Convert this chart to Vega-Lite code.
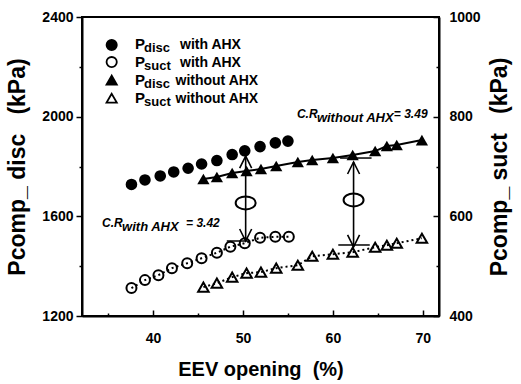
{
  "$schema": "https://vega.github.io/schema/vega-lite/v6.json",
  "width": 357,
  "height": 299,
  "autosize": {"type": "none"},
  "padding": {"left": 82, "top": 17, "right": 82, "bottom": 68},
  "background": "white",
  "config": {
    "view": {"stroke": "black", "strokeWidth": 2},
    "font": "Liberation Sans",
    "axis": {"grid": false, "domainColor": "black", "domainWidth": 2, "tickColor": "black", "tickWidth": 1.5, "labelColor": "black", "titleColor": "black", "labelFont": "Liberation Sans", "titleFont": "Liberation Sans", "labelFontWeight": "bold", "titleFontWeight": "bold", "labelFontSize": 14, "format": "d"}
  },
  "datasets": {
    "disc_with": [
      {"x": 37.6, "v": 1728}, {"x": 39.1, "v": 1746}, {"x": 40.8, "v": 1762}, {"x": 42.3, "v": 1778},
      {"x": 43.9, "v": 1793}, {"x": 45.4, "v": 1810}, {"x": 47.1, "v": 1824}, {"x": 48.8, "v": 1848},
      {"x": 50.2, "v": 1863}, {"x": 51.9, "v": 1880}, {"x": 53.6, "v": 1895}, {"x": 55.0, "v": 1902}
    ],
    "suct_with": [
      {"x": 37.6, "s": 456}, {"x": 39.1, "s": 472}, {"x": 40.6, "s": 482}, {"x": 42.1, "s": 496},
      {"x": 43.8, "s": 506}, {"x": 45.4, "s": 516}, {"x": 47.1, "s": 527}, {"x": 48.6, "s": 539},
      {"x": 50.2, "s": 546}, {"x": 51.9, "s": 557}, {"x": 53.6, "s": 559}, {"x": 55.1, "s": 559}
    ],
    "disc_without": [
      {"x": 45.6, "v": 1750}, {"x": 47.1, "v": 1758}, {"x": 48.8, "v": 1774}, {"x": 50.4, "v": 1782},
      {"x": 52.0, "v": 1790}, {"x": 53.7, "v": 1802}, {"x": 56.1, "v": 1818}, {"x": 57.7, "v": 1826},
      {"x": 60.0, "v": 1834}, {"x": 62.2, "v": 1846}, {"x": 64.7, "v": 1862}, {"x": 66.0, "v": 1882},
      {"x": 67.1, "v": 1886}, {"x": 69.9, "v": 1906}
    ],
    "suct_without": [
      {"x": 45.6, "s": 458}, {"x": 47.1, "s": 466}, {"x": 48.8, "s": 478}, {"x": 50.4, "s": 486},
      {"x": 52.0, "s": 488}, {"x": 53.7, "s": 496}, {"x": 56.1, "s": 502}, {"x": 57.7, "s": 520},
      {"x": 60.0, "s": 524}, {"x": 62.2, "s": 528}, {"x": 64.7, "s": 538}, {"x": 66.0, "s": 542},
      {"x": 67.1, "s": 546}, {"x": 69.9, "s": 556}
    ],
    "arrows": [
      {"x": 50.3, "v": 1842, "v2": 1501},
      {"x": 62.3, "v": 1818, "v2": 1477}
    ],
    "ellipses": [
      {"x": 50.3, "v": 1654},
      {"x": 62.3, "v": 1666}
    ],
    "tangents": [
      {"x": 48.2, "x2": 50.8, "v": 1501},
      {"x": 60.8, "x2": 64.3, "v": 1834},
      {"x": 60.6, "x2": 64.1, "v": 1485}
    ],
    "legend": [
      {"series": "disc_with", "mx": 35.4, "v": 2288, "xp": 38.0, "xs": 39.0, "sub": "disc", "rest": "with AHX", "xr": 43.0},
      {"series": "suct_with", "mx": 35.4, "v": 2219, "xp": 38.0, "xs": 39.0, "sub": "suct", "rest": "with AHX", "xr": 43.0},
      {"series": "disc_without", "mx": 35.4, "v": 2147, "xp": 38.0, "xs": 39.0, "sub": "disc", "rest": "without AHX", "xr": 42.5},
      {"series": "suct_without", "mx": 35.4, "v": 2074, "xp": 38.0, "xs": 39.0, "sub": "suct", "rest": "without AHX", "xr": 42.5}
    ],
    "cr": [
      {"x1": 34.33, "t1": "C.R", "x2": 36.56, "t2": "with AHX", "x3": 43.67, "t3": "= 3.42", "v": 1557},
      {"x1": 56.0, "t1": "C.R", "x2": 58.22, "t2": "without AHX", "x3": 66.78, "t3": "= 3.49", "v": 1995}
    ]
  },
  "layer": [
    {
      "layer": [
        {
          "data": {"name": "disc_with"},
          "mark": {"type": "point", "shape": "circle", "filled": true, "color": "black", "size": 135, "opacity": 1},
          "encoding": {
            "x": {"field": "x", "type": "quantitative", "scale": {"domain": [32.1, 71.8], "nice": false, "zero": false},
              "axis": {"title": "EEV opening\u00a0\u00a0(%)", "titleFontSize": 20, "titlePadding": 14,
                "values": [35, 40, 45, 50, 55, 60, 65, 70],
                "labelExpr": "datum.value % 10 === 0 ? datum.label : ''",
                "tickSize": {"condition": {"test": "datum.value % 10 === 0", "value": -6}, "value": -3},
                "labelPadding": 21}},
            "y": {"field": "v", "type": "quantitative", "scale": {"domain": [1200, 2400], "nice": false, "zero": false},
              "axis": {"title": "Pcomp_ disc\u00a0\u00a0\u00a0(kPa)", "titleFontSize": 23, "titlePadding": 12,
                "values": [1200, 1400, 1600, 1800, 2000, 2200, 2400],
                "labelExpr": "datum.value % 400 === 0 ? datum.label : ''",
                "tickSize": {"condition": {"test": "datum.value % 400 === 0", "value": 6}, "value": 3},
                "labelPadding": 3}}
          }
        },
        {
          "data": {"name": "disc_without"},
          "mark": {"type": "line", "color": "black", "strokeWidth": 2},
          "encoding": {"x": {"field": "x", "type": "quantitative"}, "y": {"field": "v", "type": "quantitative"}}
        },
        {
          "data": {"name": "disc_without"},
          "mark": {"type": "point", "shape": "triangle-up", "filled": true, "color": "black", "size": 150, "opacity": 1},
          "encoding": {"x": {"field": "x", "type": "quantitative"}, "y": {"field": "v", "type": "quantitative"}}
        },
        {
          "data": {"name": "arrows"},
          "mark": {"type": "rule", "color": "black", "strokeWidth": 1.6},
          "encoding": {"x": {"field": "x", "type": "quantitative"}, "y": {"field": "v", "type": "quantitative"}, "y2": {"field": "v2"}}
        },
        {
          "data": {"name": "arrows"},
          "mark": {"type": "point", "shape": "M -0.5 1 L 0 0 L 0.5 1", "filled": false, "color": "black", "strokeWidth": 1.6, "size": 576, "opacity": 1},
          "encoding": {"x": {"field": "x", "type": "quantitative"}, "y": {"field": "v", "type": "quantitative"}}
        },
        {
          "data": {"name": "arrows"},
          "mark": {"type": "point", "shape": "M -0.5 -1 L 0 0 L 0.5 -1", "filled": false, "color": "black", "strokeWidth": 1.6, "size": 576, "opacity": 1},
          "encoding": {"x": {"field": "x", "type": "quantitative"}, "y": {"field": "v2", "type": "quantitative"}}
        },
        {
          "data": {"name": "ellipses"},
          "mark": {"type": "point", "shape": "M -1 0 A 1 0.65 0 1 0 1 0 A 1 0.65 0 1 0 -1 0 Z", "filled": false, "color": "black", "strokeWidth": 2, "size": 400, "opacity": 1},
          "encoding": {"x": {"field": "x", "type": "quantitative"}, "y": {"field": "v", "type": "quantitative"}}
        },
        {
          "data": {"name": "tangents"},
          "mark": {"type": "rule", "color": "black", "strokeWidth": 1.5},
          "encoding": {"x": {"field": "x", "type": "quantitative"}, "x2": {"field": "x2"}, "y": {"field": "v", "type": "quantitative"}}
        },
        {
          "data": {"name": "legend"},
          "mark": {"type": "point", "filled": true, "stroke": "black", "strokeWidth": 1.8, "size": 105, "opacity": 1},
          "encoding": {
            "x": {"field": "mx", "type": "quantitative"},
            "y": {"field": "v", "type": "quantitative"},
            "fill": {"field": "series", "type": "nominal", "scale": {"domain": ["disc_with", "suct_with", "disc_without", "suct_without"], "range": ["black", "white", "black", "white"]}, "legend": null},
            "shape": {"field": "series", "type": "nominal", "scale": {"domain": ["disc_with", "suct_with", "disc_without", "suct_without"], "range": ["circle", "circle", "triangle-up", "triangle-up"]}, "legend": null}
          }
        },
        {
          "data": {"name": "legend"},
          "mark": {"type": "text", "text": "P", "align": "left", "baseline": "alphabetic", "dy": 4.5, "fontSize": 15, "fontWeight": "bold", "color": "black"},
          "encoding": {"x": {"field": "xp", "type": "quantitative"}, "y": {"field": "v", "type": "quantitative"}}
        },
        {
          "data": {"name": "legend"},
          "mark": {"type": "text", "align": "left", "baseline": "alphabetic", "dy": 7.5, "fontSize": 13, "fontWeight": "bold", "color": "black"},
          "encoding": {"x": {"field": "xs", "type": "quantitative"}, "y": {"field": "v", "type": "quantitative"}, "text": {"field": "sub"}}
        },
        {
          "data": {"name": "legend"},
          "mark": {"type": "text", "align": "left", "baseline": "alphabetic", "dy": 4.5, "fontSize": 14, "fontWeight": "bold", "color": "black"},
          "encoding": {"x": {"field": "xr", "type": "quantitative"}, "y": {"field": "v", "type": "quantitative"}, "text": {"field": "rest"}}
        },
        {
          "data": {"name": "cr"},
          "mark": {"type": "text", "align": "left", "baseline": "alphabetic", "fontSize": 12, "fontWeight": "bold", "fontStyle": "italic", "color": "black"},
          "encoding": {"x": {"field": "x1", "type": "quantitative"}, "y": {"field": "v", "type": "quantitative"}, "text": {"field": "t1"}}
        },
        {
          "data": {"name": "cr"},
          "mark": {"type": "text", "align": "left", "baseline": "alphabetic", "dy": 4, "fontSize": 13, "fontWeight": "bold", "fontStyle": "italic", "color": "black"},
          "encoding": {"x": {"field": "x2", "type": "quantitative"}, "y": {"field": "v", "type": "quantitative"}, "text": {"field": "t2"}}
        },
        {
          "data": {"name": "cr"},
          "mark": {"type": "text", "align": "left", "baseline": "alphabetic", "fontSize": 12, "fontWeight": "bold", "fontStyle": "italic", "color": "black"},
          "encoding": {"x": {"field": "x3", "type": "quantitative"}, "y": {"field": "v", "type": "quantitative"}, "text": {"field": "t3"}}
        }
      ]
    },
    {
      "layer": [
        {
          "data": {"name": "suct_with"},
          "mark": {"type": "line", "color": "black", "strokeWidth": 2, "strokeDash": [2, 3]},
          "encoding": {
            "x": {"field": "x", "type": "quantitative"},
            "y": {"field": "s", "type": "quantitative", "scale": {"domain": [400, 1000], "nice": false, "zero": false},
              "axis": {"orient": "right", "title": "Pcomp_ suct\u00a0\u00a0\u00a0(kPa)", "titleFontSize": 23, "titleAngle": -90, "titleBaseline": "top", "titlePadding": 8,
                "values": [400, 500, 600, 700, 800, 900, 1000],
                "labelExpr": "datum.value % 200 === 0 ? datum.label : ''",
                "tickSize": {"condition": {"test": "datum.value % 200 === 0", "value": -6}, "value": -3},
                "labelPadding": 16}}
          }
        },
        {
          "data": {"name": "suct_with"},
          "mark": {"type": "point", "shape": "circle", "filled": false, "color": "black", "strokeWidth": 2, "size": 100, "opacity": 1},
          "encoding": {"x": {"field": "x", "type": "quantitative"}, "y": {"field": "s", "type": "quantitative"}}
        },
        {
          "data": {"name": "suct_without"},
          "mark": {"type": "line", "color": "black", "strokeWidth": 2, "strokeDash": [2, 3]},
          "encoding": {"x": {"field": "x", "type": "quantitative"}, "y": {"field": "s", "type": "quantitative"}}
        },
        {
          "data": {"name": "suct_without"},
          "mark": {"type": "point", "shape": "triangle-up", "filled": false, "color": "black", "strokeWidth": 2, "size": 110, "opacity": 1},
          "encoding": {"x": {"field": "x", "type": "quantitative"}, "y": {"field": "s", "type": "quantitative"}}
        }
      ]
    }
  ],
  "resolve": {"scale": {"y": "independent"}}
}
